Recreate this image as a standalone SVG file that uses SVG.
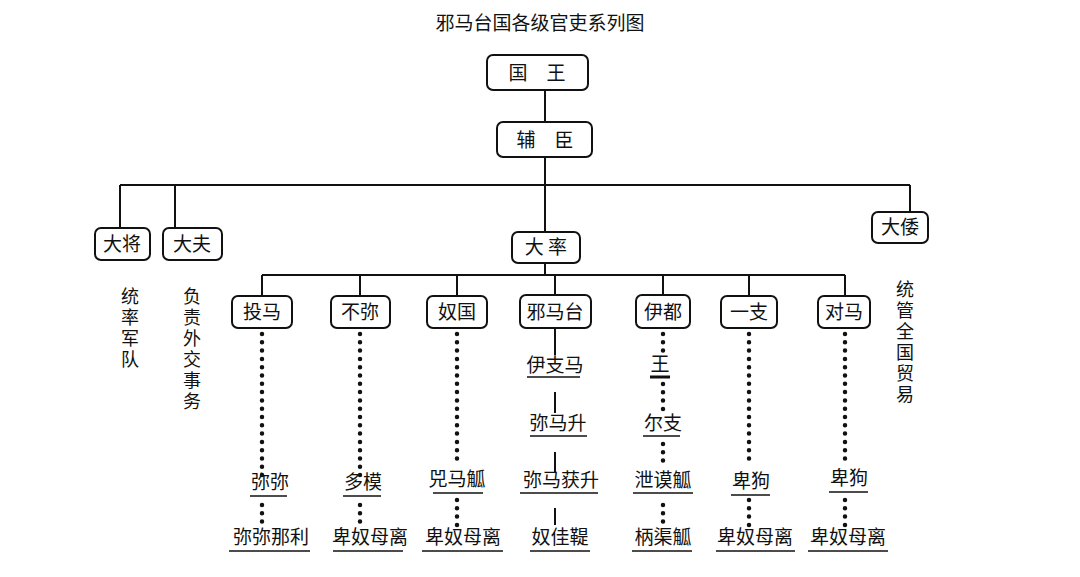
<svg xmlns="http://www.w3.org/2000/svg" width="1080" height="577" viewBox="0 0 1080 577">
<style>
text{font-family:"Noto Sans CJK SC","Noto Sans CJK JP",sans-serif;fill:#111;font-size:19px;text-anchor:middle}
.box{fill:#fff;stroke:#111;stroke-width:2}
.ln{stroke:#111;stroke-width:2;fill:none}
.dot{stroke:#111;stroke-width:4.5;stroke-linecap:round;stroke-dasharray:0 8.3;fill:none}
.ul{stroke:#111;stroke-width:1.5}
.v{font-size:18px;writing-mode:vertical-rl;text-anchor:start;letter-spacing:3px}
</style>
<rect width="1080" height="577" fill="#fff"/>
<text x="540" y="30" font-size="18">邪马台国各级官吏系列图</text>
<g id="connectors">
<path class="ln" d="M545 90V122M545 157V185M120 185H910M120 185V228M175 185V228M545 185V232M910 185V212M545 263V275M262 275H845M262 275V296M360 275V296M457 275V296M555 275V296M663 275V296M749 275V296M845 275V296"/>
<path class="ln" d="M555 328V355M555 392V413M555 452V472M555 508V525"/>
<path class="dot" d="M262 334V478M262 505V525M360 334V478M360 505V525M457 334V465M457 500V525M663 334V358M663 384V412M663 444V468M663 505V525M749 334V465M749 500V525M845 334V465M845 500V525"/>
</g>
<g id="n_guowang"><rect class="box" x="487" y="55" width="101" height="35" rx="6"/><text x="537" y="80">国　王</text></g>
<g id="n_fuchen"><rect class="box" x="497" y="122" width="95" height="35" rx="6"/><text x="545" y="147">辅　臣</text></g>
<g id="n_dajiang"><rect class="box" x="95" y="228" width="55" height="32" rx="6"/><text x="122" y="251">大将</text></g>
<g id="n_dafu"><rect class="box" x="163" y="228" width="59" height="32" rx="6"/><text x="192" y="251">大夫</text></g>
<g id="n_dazai"><rect class="box" x="512" y="232" width="68" height="31" rx="6"/><text x="546" y="254">大 率</text></g>
<g id="n_dawo"><rect class="box" x="872" y="212" width="56" height="31" rx="6"/><text x="900" y="234">大倭</text></g>
<text class="v" x="130" y="287">统率军队</text>
<text class="v" x="192" y="287">负责外交事务</text>
<text class="v" x="905" y="280">统管全国贸易</text>
<g id="n_touma"><rect class="box" x="232" y="296" width="60" height="32" rx="6"/><text x="262" y="319">投马</text></g>
<g id="n_bumi"><rect class="box" x="331" y="296" width="59" height="32" rx="6"/><text x="360" y="319">不弥</text></g>
<g id="n_nuguo"><rect class="box" x="427" y="296" width="60" height="32" rx="6"/><text x="457" y="319">奴国</text></g>
<g id="n_yamatai"><rect class="box" x="520" y="295" width="71" height="33" rx="6"/><text x="555" y="319">邪马台</text></g>
<g id="n_yidu"><rect class="box" x="636" y="295" width="54" height="33" rx="6"/><text x="663" y="319">伊都</text></g>
<g id="n_yizhi"><rect class="box" x="721" y="296" width="56" height="32" rx="6"/><text x="749" y="319">一支</text></g>
<g id="n_duima"><rect class="box" x="818" y="296" width="52" height="32" rx="6"/><text x="844" y="319">对马</text></g>
<g id="labels">
<text x="270" y="489">弥弥</text><line class="ul" x1="250" y1="496" x2="287" y2="496"/>
<text x="271" y="544">弥弥那利</text><line class="ul" x1="229" y1="551" x2="310" y2="551"/>
<text x="363" y="489">多模</text><line class="ul" x1="343" y1="496" x2="381" y2="496"/>
<text x="370" y="544">卑奴母离</text><line class="ul" x1="333" y1="551" x2="403" y2="551"/>
<text x="457" y="486">兕马觚</text><line class="ul" x1="433" y1="493" x2="483" y2="493"/>
<text x="463" y="544">卑奴母离</text><line class="ul" x1="422" y1="551" x2="503" y2="551"/>
<text x="555" y="372">伊支马</text><line class="ul" x1="527" y1="377" x2="580" y2="377" stroke-width="2.5"/>
<text x="558" y="430">弥马升</text><line class="ul" x1="530" y1="436" x2="587" y2="436"/>
<text x="561" y="487">弥马获升</text><line class="ul" x1="520" y1="493" x2="598" y2="493"/>
<text x="560" y="544">奴佳鞮</text><line class="ul" x1="530" y1="551" x2="590" y2="551"/>
<text x="660" y="371">王</text><line x1="650" y1="377" x2="670" y2="377" stroke="#111" stroke-width="3"/>
<text x="663" y="430">尔支</text><line class="ul" x1="643" y1="436" x2="680" y2="436"/>
<text x="663" y="487">泄谟觚</text><line class="ul" x1="633" y1="493" x2="693" y2="493"/>
<text x="663" y="544">柄渠觚</text><line class="ul" x1="632" y1="551" x2="692" y2="551"/>
<text x="751" y="488">卑狗</text><line class="ul" x1="731" y1="495" x2="770" y2="495"/>
<text x="755" y="544">卑奴母离</text><line class="ul" x1="716" y1="551" x2="795" y2="551"/>
<text x="849" y="485">卑狗</text><line class="ul" x1="829" y1="492" x2="868" y2="492"/>
<text x="848" y="544">卑奴母离</text><line class="ul" x1="808" y1="551" x2="888" y2="551"/>
</g>
</svg>
